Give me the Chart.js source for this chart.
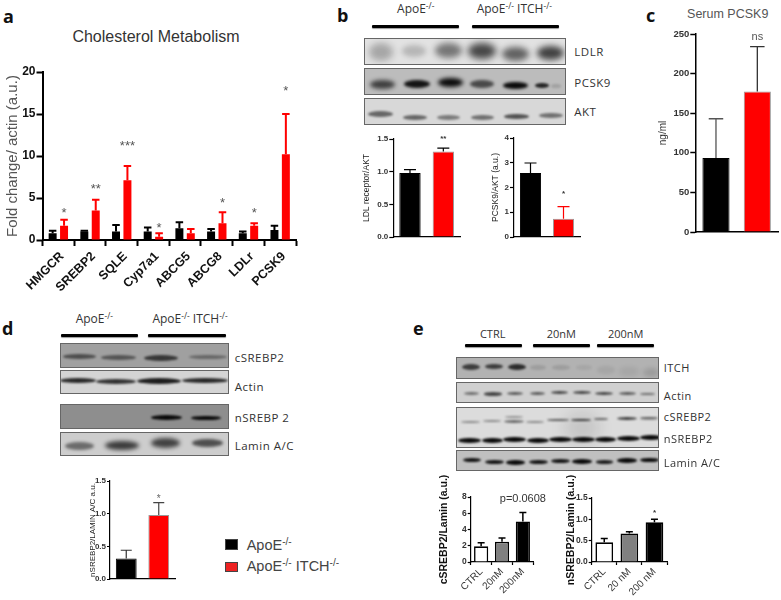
<!DOCTYPE html>
<html>
<head>
<meta charset="utf-8">
<script src="https://cdn.jsdelivr.net/npm/chart.js@4"></script>
<style>
html, body { margin: 0; padding: 0; background: #fff; overflow: hidden; }
#page { position: relative; width: 781px; height: 600px; overflow: hidden; }
#page canvas { position: absolute; }
.t { position: absolute; white-space: nowrap; font-family: "Open Sans", sans-serif; font-size: 11px; color: #333; transform: translateY(-50%); line-height: 1; }
.t.c { transform: translate(-50%, -50%); }
.t sup { font-size: 0.7em; vertical-align: 0.45em; line-height: 0; }
.bar { position: absolute; background: #000; border-radius: 1px; box-shadow: 0 1px 1px #999; }
.blot { position: absolute; overflow: hidden; box-sizing: border-box; border: 1px solid #666; }
.band { position: absolute; border-radius: 50%; }
.leg { position: absolute; box-sizing: border-box; border: 1px solid #444; }
</style>
</head>
<body>
<div id="page"></div>
<script>
// --- panel a
const catsA = ['HMGCR', 'SREBP2', 'SQLE', 'Cyp7a1', 'ABCG5', 'ABCG8', 'LDLr', 'PCSK9'];
const ctrlA = [0.8, 1.0, 1.0, 1.0, 1.4, 1.0, 0.8, 1.2];
const ctrlErrA = [1.1, 1.1, 1.8, 1.5, 2.1, 1.3, 1.0, 1.7];
const koA = [1.7, 3.5, 7.1, 0.4, 0.8, 2.0, 1.7, 10.2];
const koErrA = [2.4, 4.8, 8.8, 0.8, 1.3, 3.3, 2.0, 15.0];
const sigA = ['*', '**', '***', '*', '', '*', '*', '*'];
const sigPosA = [3.6, 6.5, 11.6, 1.9, 0, 4.8, 3.6, 18.2];

// --- panel b
const catsB = ['ApoE-/-', 'ApoE-/- ITCH-/-'];
const ldlr = [0.98, 1.31];
const ldlrErr = [1.03, 1.36];
const sigLdlr = ['', '**'];
const sigPosLdlr = [0, 1.54];
const pcsk9 = [2.59, 0.74];
const pcsk9Err = [2.99, 1.23];
const sigPcsk9 = ['', '*'];
const sigPosPcsk9 = [0, 1.85];

// --- panel c
const serum = [93.5, 177.5];
const serumErr = [143, 234];
const sigSerum = ['', 'ns'];
const sigPosSerum = [0, 245.8];

// --- panel d
const nsrebp = [0.315, 0.98];
const nsrebpErr = [0.44, 1.17];
const sigNsrebp = ['', '*'];
const sigPosNsrebp = [0, 1.26];

// --- panel e
const catsE1 = ['CTRL', '20nM', '200nM'];
const csrebpE = [1.93, 2.5, 5.0];
const csrebpErrE = [2.38, 2.95, 6.1];
const sigE1 = ['', '', 'p=0.0608'];
const sigPosE1 = [0, 0, 7.8];
const catsE2 = ['CTRL', '20 nM', '200 nM'];
const nsrebpE = [0.46, 0.67, 0.93];
const nsrebpErrE = [0.55, 0.71, 1.0];
const sigE2 = ['', '', '*'];
const sigPosE2 = [0, 0, 1.2];

const RED = '#ff0000';
const ARIAL = '"Liberation Sans", Arial, sans-serif';
const page = document.getElementById('page');

// error bars and significance marks, all placed through the chart scales
const extras = {
    id: 'extras',
    afterDatasetsDraw(chart, args, o) {
        const c = chart.ctx;
        const y = chart.scales.y;
        c.save();
        chart.data.datasets.forEach((ds, d) => {
            const meta = chart.getDatasetMeta(d);
            meta.data.forEach((bar, i) => {
                const top = y.getPixelForValue(o.errs[d][i]);
                const from = y.getPixelForValue(ds.data[i]);
                c.strokeStyle = o.errColors[d][i];
                c.lineWidth = o.lineW;
                c.beginPath();
                c.moveTo(bar.x, from);
                c.lineTo(bar.x, top);
                c.moveTo(bar.x - o.cap / 2, top);
                c.lineTo(bar.x + o.cap / 2, top);
                c.stroke();
            });
        });
        const last = chart.getDatasetMeta(chart.data.datasets.length - 1);
        c.fillStyle = o.sigColor;
        c.textAlign = 'center';
        c.font = o.sigFont;
        o.sig.forEach((s, i) => {
            if (!s) return;
            const py = y.getPixelForValue(o.sigPos[i]);
            if (s[0] === '*') {
                c.textBaseline = 'alphabetic';
                c.fillText(s, last.data[i].x, py + o.sigSize * 0.58);
            } else {
                c.textBaseline = 'middle';
                c.fillText(s, last.data[i].x, py);
            }
        });
        c.restore();
    }
};

// box: left of canvas, plot left, plot right, plot top, plot bottom
function barChart(box, cfg) {
    const canvas = document.createElement('canvas');
    const extra = cfg.xHeight || 10;
    const padTop = cfg.padTop || 8;
    const top = box.top - padTop;
    const right = cfg.canvasRight || box.right + 3;
    canvas.width = right - box.left;
    canvas.height = box.bottom + extra - top;
    canvas.style.left = box.left + 'px';
    canvas.style.top = top + 'px';
    page.appendChild(canvas);

    new Chart(canvas, {
        type: 'bar',
        data: { labels: cfg.labels, datasets: cfg.datasets },
        options: {
            responsive: false,
            animation: false,
            barPercentage: cfg.barP,
            categoryPercentage: cfg.catP,
            layout: { padding: { top: padTop, right: right - box.right, left: 0, bottom: 0 } },
            scales: {
                x: {
                    z: 1,
                    afterFit(s) { s.height = extra; },
                    border: { color: '#000', width: cfg.axisW },
                    grid: { drawOnChartArea: false, drawTicks: !!cfg.xFont, tickLength: cfg.tickLen, tickColor: '#000', tickWidth: cfg.axisW },
                    ticks: cfg.xFont ? {
                        display: true, autoSkip: false, minRotation: 45, maxRotation: 45,
                        font: cfg.xFont, color: cfg.xColor, padding: cfg.xPad, labelOffset: cfg.xOffset
                    } : { display: false }
                },
                y: {
                    z: 1,
                    min: 0,
                    max: cfg.max,
                    afterFit(s) { s.width = box.plot - box.left; },
                    border: { color: '#000', width: cfg.axisW },
                    grid: { drawOnChartArea: false, tickLength: cfg.tickLen, tickColor: '#000', tickWidth: cfg.axisW },
                    ticks: {
                        stepSize: cfg.step,
                        font: cfg.yFont,
                        color: cfg.yColor,
                        padding: 1,
                        callback: v => cfg.decimals ? v.toFixed(cfg.decimals) : v
                    },
                    title: { display: true, text: cfg.yTitle, font: cfg.titleFont, color: cfg.titleColor, padding: 0 }
                }
            },
            plugins: {
                legend: { display: false },
                tooltip: { enabled: false },
                extras: cfg.extras
            }
        },
        plugins: [extras]
    });
}

// panel a
barChart({ left: 4, plot: 42.5, right: 296, top: 71.7, bottom: 240 }, {
    labels: catsA,
    datasets: [
        { data: ctrlA, backgroundColor: '#000' },
        { data: koA, backgroundColor: RED }
    ],
    barP: 0.7, catP: 0.72, max: 20, step: 5, axisW: 2, tickLen: 6,
    xHeight: 60, padTop: 20,
    xFont: { family: ARIAL, size: 12.5, weight: 'bold' }, xColor: '#111', xPad: 3, xOffset: 3.5,
    yFont: { family: ARIAL, size: 12, weight: 'bold' }, yColor: '#111',
    yTitle: 'Fold change/ actin (a.u.)',
    titleFont: { family: ARIAL, size: 15 }, titleColor: '#555',
    extras: {
        errs: [ctrlErrA, koErrA],
        errColors: [ctrlA.map(() => '#000'), koA.map(() => RED)],
        cap: 7.5, lineW: 2,
        sig: sigA, sigPos: sigPosA, sigFont: '13px ' + ARIAL, sigSize: 13, sigColor: '#555'
    }
});

// panel b, LDL receptor
const smallTicks = { family: ARIAL, size: 8, weight: 'bold' };
const smallTitle = { family: ARIAL, size: 8.5 };
barChart({ left: 362, plot: 393.3, right: 460.7, top: 139.3, bottom: 237.3 }, {
    labels: catsB,
    datasets: [{ data: ldlr, backgroundColor: ['#000', RED], borderColor: ['#000', '#999'], borderWidth: 1 }],
    barP: 0.8, catP: 0.8, max: 1.5, step: 0.5, decimals: 1, axisW: 1.2, tickLen: 4,
    yFont: smallTicks, yColor: '#333',
    yTitle: 'LDL receptor/AKT',
    titleFont: smallTitle, titleColor: '#222',
    extras: {
        errs: [ldlrErr], errColors: [['#000', '#000']], cap: 12, lineW: 1.2,
        sig: sigLdlr, sigPos: sigPosLdlr, sigFont: 'bold 8px ' + ARIAL, sigSize: 8, sigColor: '#333'
    }
});

// panel b, PCSK9
barChart({ left: 491, plot: 514, right: 580.7, top: 138.3, bottom: 237.3 }, {
    labels: catsB,
    datasets: [{ data: pcsk9, backgroundColor: ['#000', RED], borderColor: ['#000', '#999'], borderWidth: 1 }],
    barP: 0.8, catP: 0.8, max: 4, step: 1, axisW: 1.2, tickLen: 4,
    yFont: smallTicks, yColor: '#333',
    yTitle: 'PCSK9/AKT (a.u.)',
    titleFont: smallTitle, titleColor: '#222',
    extras: {
        errs: [pcsk9Err], errColors: [['#000', RED]], cap: 12, lineW: 1.2,
        sig: sigPcsk9, sigPos: sigPosPcsk9, sigFont: 'bold 8px ' + ARIAL, sigSize: 8, sigColor: '#333'
    }
});

// panel c
barChart({ left: 657, plot: 695.3, right: 778.3, top: 34, bottom: 232.7 }, {
    labels: catsB,
    datasets: [{ data: serum, backgroundColor: ['#000', RED], borderColor: ['#000', '#999'], borderWidth: 1 }],
    barP: 0.8, catP: 0.82, max: 250, step: 50, axisW: 1.5, tickLen: 5,
    yFont: { family: ARIAL, size: 9.5, weight: 'bold' }, yColor: '#333',
    yTitle: 'ng/ml',
    titleFont: { family: ARIAL, size: 10 }, titleColor: '#333',
    extras: {
        errs: [serumErr], errColors: [['#555', '#333']], cap: 14.5, lineW: 1.3,
        sig: sigSerum, sigPos: sigPosSerum, sigFont: '11px ' + ARIAL, sigSize: 11, sigColor: '#555'
    }
});

// panel d
barChart({ left: 88, plot: 110, right: 175.7, top: 481, bottom: 579.3 }, {
    labels: catsB,
    datasets: [{ data: nsrebp, backgroundColor: ['#000', RED], borderColor: ['#000', '#999'], borderWidth: 1 }],
    barP: 0.8, catP: 0.8, max: 1.5, step: 0.5, decimals: 1, axisW: 1.2, tickLen: 3,
    yFont: smallTicks, yColor: '#333',
    yTitle: 'nSREBP2/LAMIN A/C a.u.',
    titleFont: { family: ARIAL, size: 8 }, titleColor: '#222',
    extras: {
        errs: [nsrebpErr], errColors: [['#333', '#444']], cap: 11, lineW: 1.2,
        sig: sigNsrebp, sigPos: sigPosNsrebp, sigFont: '10px ' + ARIAL, sigSize: 10, sigColor: '#666'
    }
});

// panel e, two small charts
barChart({ left: 438, plot: 470.7, right: 533.3, top: 496.7, bottom: 561.7 }, {
    labels: catsE1,
    datasets: [{ data: csrebpE, backgroundColor: ['#fff', '#808080', '#000'], borderColor: '#000', borderWidth: 1.6 }],
    barP: 0.8, catP: 0.85, max: 8, step: 2, axisW: 1.2, tickLen: 3,
    xHeight: 38, padTop: 30, canvasRight: 560,
    xFont: { family: ARIAL, size: 10 }, xColor: '#333', xPad: 1, xOffset: 0,
    yFont: { family: ARIAL, size: 8.5, weight: 'bold' }, yColor: '#333',
    yTitle: 'cSREBP2/Lamin (a.u.)',
    titleFont: { family: ARIAL, size: 10.5, weight: 'bold' }, titleColor: '#111',
    extras: {
        errs: [csrebpErrE], errColors: [['#000', '#000', '#000']], cap: 7, lineW: 1.5,
        sig: sigE1, sigPos: sigPosE1, sigFont: '11px ' + ARIAL, sigSize: 11, sigColor: '#333'
    }
});

barChart({ left: 565, plot: 591.7, right: 667.3, top: 497.7, bottom: 562.3 }, {
    labels: catsE2,
    datasets: [{ data: nsrebpE, backgroundColor: ['#fff', '#808080', '#000'], borderColor: '#000', borderWidth: 1.6 }],
    barP: 0.8, catP: 0.88, max: 1.5, step: 0.5, decimals: 1, axisW: 1.2, tickLen: 3,
    xHeight: 38, padTop: 30,
    xFont: { family: ARIAL, size: 10 }, xColor: '#333', xPad: 1, xOffset: 0,
    yFont: { family: ARIAL, size: 8.5, weight: 'bold' }, yColor: '#333',
    yTitle: 'nSREBP2/Lamin (a.u.)',
    titleFont: { family: ARIAL, size: 10.5, weight: 'bold' }, titleColor: '#111',
    extras: {
        errs: [nsrebpErrE], errColors: [['#000', '#000', '#000']], cap: 7, lineW: 1.5,
        sig: sigE2, sigPos: sigPosE2, sigFont: 'bold 8px ' + ARIAL, sigSize: 8, sigColor: '#333'
    }
});

// --- html text, header bars, blot pictures
function txt(x, y, html, extra, centered) {
    const d = document.createElement('div');
    d.className = 't' + (centered ? ' c' : '');
    d.style.left = x + 'px';
    d.style.top = y + 'px';
    d.innerHTML = html;
    if (extra) d.style.cssText += extra;
    page.appendChild(d);
}

function hbar(x1, x2, y) {
    const d = document.createElement('div');
    d.className = 'bar';
    d.style.cssText = `left:${x1}px;top:${y - 1.5}px;width:${x2 - x1}px;height:3px`;
    page.appendChild(d);
}

// bands: centre x, centre y, width, height, darkness
function blot(x1, y1, x2, y2, bg, bands) {
    const d = document.createElement('div');
    d.className = 'blot';
    d.style.cssText = `left:${x1}px;top:${y1}px;width:${x2 - x1}px;height:${y2 - y1}px;background:${bg}`;
    bands.forEach(b => {
        const e = document.createElement('div');
        e.className = 'band';
        e.style.cssText = `left:${b[0] - b[2] / 2 - x1}px;top:${b[1] - b[3] / 2 - y1}px;width:${b[2]}px;height:${b[3]}px;background:rgba(10,10,10,${b[4]});filter:blur(${Math.max(1.2, b[3] * 0.22)}px)`;
        d.appendChild(e);
    });
    page.appendChild(d);
}

const KO = 'ApoE<sup>-/-</sup>';
const DKO = 'ApoE<sup>-/-</sup> ITCH<sup>-/-</sup>';
const LETTER = 'font-weight:700;font-size:18px;color:#111';
const ROW = 'font-size:11.5px;letter-spacing:.5px';
const PLAIN = "font-family:'Liberation Sans',Arial,sans-serif;";

txt(3, 16, 'a', LETTER);
txt(337, 15, 'b', LETTER);
txt(646, 15, 'c', LETTER);
txt(2, 328, 'd', LETTER);
txt(413, 328, 'e', LETTER);

// chart titles
txt(156, 37, 'Cholesterol Metabolism', PLAIN + 'font-size:16px;color:#333', true);
txt(727.7, 13.7, 'Serum PCSK9', PLAIN + 'font-size:12.5px;color:#555', true);

// panel b blots
txt(415.7, 9, KO, 'font-size:12px', true);
txt(514.3, 9, DKO, 'font-size:12px', true);
hbar(372, 458.7, 26.7);
hbar(472.3, 559, 26.7);
blot(364.3, 37.7, 565.7, 65, '#e2e2e2', [
    [380, 51, 24, 18, 0.28], [413, 50, 24, 12, 0.2], [448, 50, 27, 15, 0.5],
    [481, 50, 28, 16, 0.72], [515, 53, 27, 14, 0.6], [550, 52, 27, 14, 0.75]
]);
blot(364.3, 68, 565.7, 95.3, '#bcbcbc', [
    [382, 83, 25, 9, 0.7], [416, 83, 26, 8, 0.95], [450, 81, 25, 9, 1],
    [481, 83, 24, 8, 0.65], [515, 84, 25, 7, 1], [541, 84, 14, 5, 0.85], [555, 85, 10, 4, 0.15]
]);
blot(364.3, 98, 565.7, 125, '#d8d8d8', [
    [380, 113, 25, 6, 0.55], [414, 116, 24, 5, 0.55], [448, 116, 23, 5, 0.45],
    [482, 116, 23, 5, 0.5], [516, 115, 25, 5, 0.65], [550, 114, 24, 5, 0.5]
]);
txt(574.3, 51.7, 'LDLR', ROW);
txt(574.3, 83.3, 'PCSK9', ROW);
txt(574.3, 112.3, 'AKT', ROW);

// panel d blots
txt(94.3, 319.3, KO, 'font-size:12px', true);
txt(190, 319.3, DKO, 'font-size:12px', true);
hbar(60.7, 138, 335);
hbar(148.3, 225.7, 335);
blot(60, 343.3, 228.7, 368, '#a0a0a0', [
    [78, 356, 33, 5, 0.55], [117, 357, 35, 5, 0.5], [160, 357, 34, 6, 0.7], [207, 356, 38, 4, 0.38]
]);
blot(60, 370, 228.7, 394.3, '#d4d4d4', [
    [77, 379.5, 36, 5, 0.85], [115, 380, 40, 5, 0.8], [158, 380, 44, 6, 0.9], [204, 379.5, 46, 5, 0.85]
]);
blot(60, 404.3, 228.7, 428.7, '#8e8e8e', [
    [165, 417, 31, 5, 1], [205, 417, 30, 4.5, 1]
]);
blot(60, 432, 228.7, 456, '#cdcdcd', [
    [78, 445, 29, 8, 0.5], [121, 444, 34, 9, 0.75], [164, 442, 29, 10, 0.72], [206, 442, 31, 8, 0.65]
]);
txt(234.7, 358.3, 'cSREBP2', ROW);
txt(234.7, 387.3, 'Actin', ROW);
txt(234.7, 418.3, 'nSREBP 2', ROW);
txt(234.7, 445.7, 'Lamin A/C', ROW);

// legend under panel d
const l1 = document.createElement('div');
l1.className = 'leg';
l1.style.cssText = 'left:225px;top:539.3px;width:12.7px;height:10.7px;background:#000';
page.appendChild(l1);
const l2 = document.createElement('div');
l2.className = 'leg';
l2.style.cssText = 'left:225px;top:561.7px;width:12.7px;height:10px;background:#ee2222';
page.appendChild(l2);
txt(246.7, 545, KO, PLAIN + 'font-size:14.5px;color:#444');
txt(246.7, 566, DKO, PLAIN + 'font-size:14.5px;color:#444');

// panel e blots
txt(492.7, 332.7, 'CTRL', 'font-size:11px', true);
txt(561.3, 332.7, '20nM', 'font-size:11px', true);
txt(625.7, 332.7, '200nM', 'font-size:11px', true);
hbar(465, 521.7, 345);
hbar(533.3, 590, 345);
hbar(597.3, 654, 345);
blot(456, 356.7, 658.7, 378.7, '#b2b2b2', [
    [470, 366, 18, 6, 0.7], [492.7, 366, 18, 5, 0.7], [516, 366, 18, 6, 0.8],
    [537, 367, 16, 5, 0.12], [560, 367, 18, 5, 0.12], [583, 367, 16, 5, 0.07],
    [605, 369, 18, 8, 0.07], [628, 371, 20, 9, 0.07], [650, 372, 16, 9, 0.12]
]);
blot(456, 381.7, 658.7, 403, '#d0d0d0', [
    [470, 393, 15, 3, 0.5], [492, 393, 18, 3.5, 0.7], [514, 392.5, 16, 3, 0.6],
    [536, 392.5, 15, 3, 0.6], [558, 392, 17, 3, 0.7], [581, 392, 18, 3, 0.7],
    [603, 392.5, 18, 3, 0.7], [626, 392.5, 17, 3, 0.6], [646, 393, 15, 2.5, 0.5]
]);
blot(456, 407.3, 658.7, 447.7, '#dcdcdc', [
    [581, 427, 36, 32, 0.1],
    [469, 421, 19, 2, 0.4], [491, 420, 18, 2, 0.4], [513, 421, 20, 3, 0.55], [534, 421, 18, 2, 0.4],
    [557, 419, 22, 2.5, 0.6], [580, 419, 20, 2.5, 0.75], [600, 418, 14, 2.5, 0.55], [626, 418, 20, 3, 0.75], [648, 417, 18, 2.5, 0.6],
    [513, 416, 18, 2, 0.35], [648, 418.5, 18, 1.5, 0.3],
    [468, 439.5, 23, 5, 1], [491, 439.5, 21, 5, 1], [513, 439, 23, 5, 1], [537, 439.5, 22, 5, 1],
    [559, 438.5, 23, 5, 1], [582, 438.5, 23, 5, 1], [604, 438.5, 21, 5, 1], [627, 437.5, 23, 5, 1], [650, 436.5, 22, 5, 1]
]);
blot(456, 450.3, 658.7, 470.7, '#c0c0c0', [
    [471, 459, 18, 4, 0.95], [493, 461, 19, 4, 0.95], [514, 461.5, 19, 4.5, 1],
    [537, 461, 19, 4, 0.95], [559, 460.5, 19, 4, 0.95], [581, 460.5, 20, 4.5, 1],
    [603, 461, 17, 3.5, 0.9], [626, 459.5, 20, 4.5, 1], [648, 459, 19, 4.5, 1]
]);
txt(663.7, 367, 'ITCH', 'font-size:11px;letter-spacing:.5px');
txt(663.7, 395.3, 'Actin', 'font-size:11px;letter-spacing:.5px');
txt(663.7, 415.7, 'cSREBP2', 'font-size:11px;letter-spacing:.5px');
txt(663.7, 438, 'nSREBP2', 'font-size:11px;letter-spacing:.5px');
txt(663.7, 461.7, 'Lamin A/C', 'font-size:11px;letter-spacing:.5px');
</script>
</body>
</html>
